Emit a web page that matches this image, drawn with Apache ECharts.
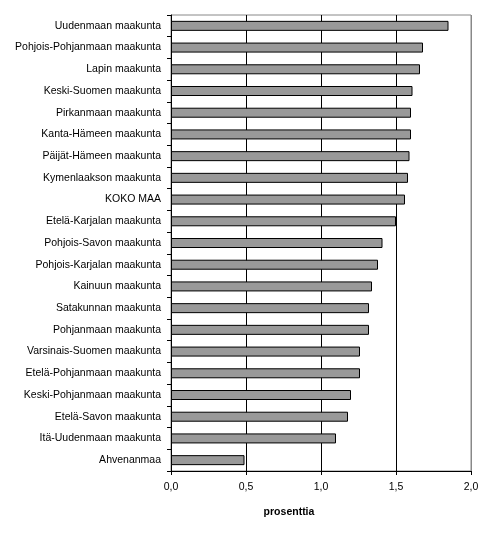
<!DOCTYPE html>
<html>
<head>
<meta charset="utf-8">
<script src="https://cdn.jsdelivr.net/npm/echarts@6/dist/echarts.min.js"></script>
<style>
  html, body { margin: 0; padding: 0; background: #fff; }
  #chart { width: 495px; height: 536px; }
</style>
</head>
<body>
<div id="chart"></div>
<script>
const regions = [
  'Uudenmaan maakunta', 'Pohjois-Pohjanmaan maakunta', 'Lapin maakunta',
  'Keski-Suomen maakunta', 'Pirkanmaan maakunta', 'Kanta-Hämeen maakunta',
  'Päijät-Hämeen maakunta', 'Kymenlaakson maakunta', 'KOKO MAA',
  'Etelä-Karjalan maakunta', 'Pohjois-Savon maakunta', 'Pohjois-Karjalan maakunta',
  'Kainuun maakunta', 'Satakunnan maakunta', 'Pohjanmaan maakunta',
  'Varsinais-Suomen maakunta', 'Etelä-Pohjanmaan maakunta', 'Keski-Pohjanmaan maakunta',
  'Etelä-Savon maakunta', 'Itä-Uudenmaan maakunta', 'Ahvenanmaa'
];
const percent = [
  1.85, 1.68, 1.66, 1.61, 1.60, 1.60, 1.59, 1.58, 1.56, 1.50,
  1.41, 1.38, 1.34, 1.32, 1.32, 1.26, 1.26, 1.20, 1.18, 1.10, 0.49
];
const xTicks = [0, 0.5, 1.0, 1.5, 2.0];

const chart = echarts.init(document.getElementById('chart'));
const font = 'Arial, "Liberation Sans", sans-serif';

chart.setOption({
  animation: false,
  title: {
    text: 'prosenttia',
    left: 284,
    top: 502,
    textAlign: 'center',
    textStyle: { fontFamily: font, fontSize: 10.5, fontWeight: 'bold', color: '#000' }
  },
  grid: {
    left: 171, right: 24, top: 15, bottom: 65,
    show: true, borderColor: '#888', borderWidth: 1
  },
  xAxis: {
    type: 'value',
    min: xTicks[0],
    max: xTicks[xTicks.length - 1],
    interval: 0.5,
    axisLine: { show: true, lineStyle: { color: '#000' } },
    axisTick: { show: true, length: 4, lineStyle: { color: '#000' } },
    axisLabel: {
      margin: 11,
      color: '#000',
      fontFamily: font,
      fontSize: 10.5,
      formatter: v => v.toFixed(1).replace('.', ',')
    },
    splitLine: { show: true, lineStyle: { color: ['#000', '#000', '#000', '#000', '#888'], width: 1 } }
  },
  yAxis: {
    type: 'category',
    data: regions,
    inverse: true,
    axisLine: { show: true, lineStyle: { color: '#000' } },
    axisTick: { show: true, length: 4, lineStyle: { color: '#000' } },
    axisLabel: { margin: 10, color: '#000', fontFamily: font, fontSize: 10.5 }
  },
  series: [{
    type: 'bar',
    data: percent,
    barWidth: 10,
    itemStyle: { color: '#999999', borderColor: '#000', borderWidth: 1 }
  }]
});
</script>
</body>
</html>
